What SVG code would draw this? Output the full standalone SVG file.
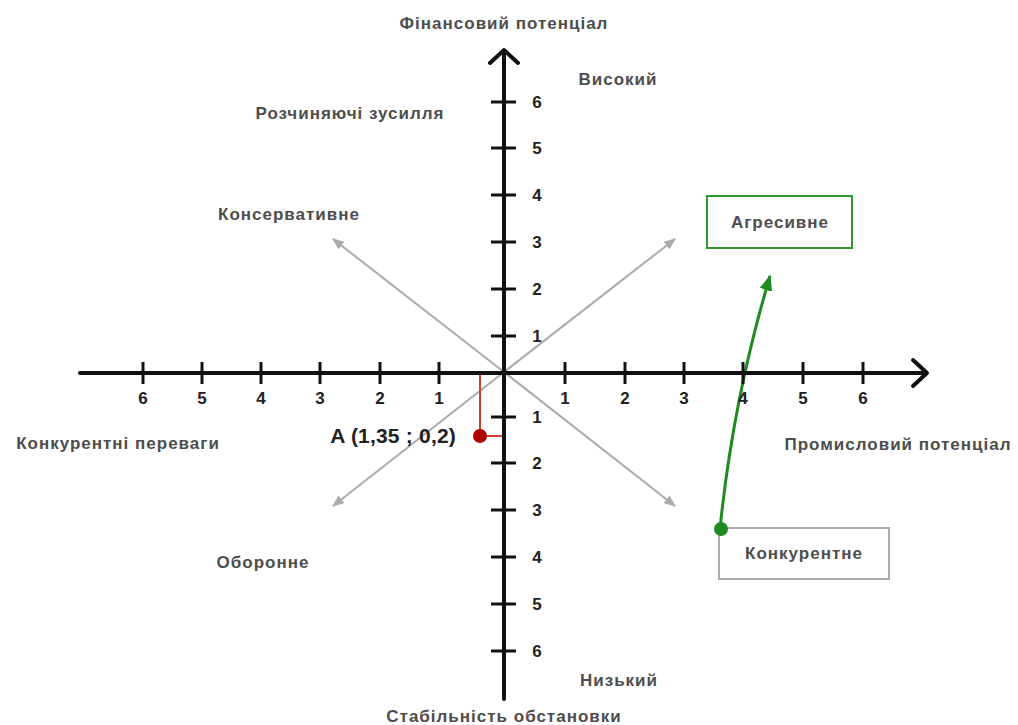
<svg xmlns="http://www.w3.org/2000/svg" width="1018" height="725" viewBox="0 0 1018 725">
<style>
.lbl{font-family:"Liberation Sans",Arial,sans-serif;font-weight:bold;font-size:17px;letter-spacing:1px;fill:#4d4d4d;text-anchor:middle}
.num{font-family:"Liberation Sans",Arial,sans-serif;font-weight:bold;font-size:17px;fill:#222;text-anchor:middle}
.axis{stroke:#111;stroke-width:4;fill:none;stroke-linecap:round;stroke-linejoin:round}
.tick{stroke:#111;stroke-width:3}
.diag{stroke:#aaa;stroke-width:2;fill:none}
</style>
<defs>
<marker id="ga" viewBox="0 0 10 10" refX="9" refY="5" markerWidth="12" markerHeight="12" orient="auto" markerUnits="userSpaceOnUse">
<path d="M0,1 L10,5 L0,9 z" fill="#aaa"/>
</marker>
<marker id="gr" viewBox="0 0 10 10" refX="9" refY="5" markerWidth="16" markerHeight="16" orient="auto" markerUnits="userSpaceOnUse">
<path d="M0,1 L10,5 L0,9 z" fill="#1f8a1f"/>
</marker>
</defs>
<rect width="1018" height="725" fill="#fff"/>
<g id="connectors">
<line class="diag" x1="504" y1="372" x2="675" y2="239" marker-end="url(#ga)"/>
<line class="diag" x1="504" y1="372" x2="333" y2="239" marker-end="url(#ga)"/>
<line class="diag" x1="504" y1="372" x2="333" y2="506" marker-end="url(#ga)"/>
<line class="diag" x1="504" y1="372" x2="675" y2="506" marker-end="url(#ga)"/>
<path d="M720,529 Q733,400 770,276" stroke="#1f8a1f" stroke-width="3" fill="none" marker-end="url(#gr)"/>
<polyline points="480,373 480,436 504,436" stroke="#d0402a" stroke-width="2" fill="none"/>
</g>
<g id="axes">
<line class="axis" x1="80" y1="373" x2="926" y2="373"/>
<polyline class="axis" points="913,360 927,373 913,386"/>
<line class="axis" x1="504" y1="52" x2="504" y2="699"/>
<polyline class="axis" points="490,63 504,50 518,63"/>
<g class="tick">
<line x1="143" y1="362" x2="143" y2="384"/><line x1="202" y1="362" x2="202" y2="384"/><line x1="261" y1="362" x2="261" y2="384"/><line x1="320" y1="362" x2="320" y2="384"/><line x1="380" y1="362" x2="380" y2="384"/><line x1="439" y1="362" x2="439" y2="384"/>
<line x1="565" y1="362" x2="565" y2="384"/><line x1="625" y1="362" x2="625" y2="384"/><line x1="684" y1="362" x2="684" y2="384"/><line x1="743" y1="362" x2="743" y2="384"/><line x1="803" y1="362" x2="803" y2="384"/><line x1="863" y1="362" x2="863" y2="384"/>
<line x1="491" y1="102" x2="516" y2="102"/><line x1="491" y1="148" x2="516" y2="148"/><line x1="491" y1="195" x2="516" y2="195"/><line x1="491" y1="242" x2="516" y2="242"/><line x1="491" y1="289" x2="516" y2="289"/><line x1="491" y1="336" x2="516" y2="336"/>
<line x1="491" y1="417" x2="516" y2="417"/><line x1="491" y1="463" x2="516" y2="463"/><line x1="491" y1="510" x2="516" y2="510"/><line x1="491" y1="557" x2="516" y2="557"/><line x1="491" y1="604" x2="516" y2="604"/><line x1="491" y1="651" x2="516" y2="651"/>
</g>
<g>
<text class="num" x="143" y="404">6</text><text class="num" x="202" y="404">5</text><text class="num" x="261" y="404">4</text><text class="num" x="320" y="404">3</text><text class="num" x="380" y="404">2</text><text class="num" x="439" y="404">1</text>
<text class="num" x="565" y="404">1</text><text class="num" x="625" y="404">2</text><text class="num" x="684" y="404">3</text><text class="num" x="743" y="404">4</text><text class="num" x="803" y="404">5</text><text class="num" x="863" y="404">6</text>
<text class="num" x="537" y="108">6</text><text class="num" x="537" y="154">5</text><text class="num" x="537" y="201">4</text><text class="num" x="537" y="248">3</text><text class="num" x="537" y="295">2</text><text class="num" x="537" y="342">1</text>
<text class="num" x="537" y="423">1</text><text class="num" x="537" y="469">2</text><text class="num" x="537" y="516">3</text><text class="num" x="537" y="563">4</text><text class="num" x="537" y="610">5</text><text class="num" x="537" y="657">6</text>
</g>
</g>
<g id="labels">
<text class="lbl" x="504" y="29">Фінансовий потенціал</text>
<text class="lbl" x="618" y="85">Високий</text>
<text class="lbl" x="350" y="119">Розчиняючі зусилля</text>
<text class="lbl" x="289" y="220">Консервативне</text>
<text class="lbl" x="118" y="449">Конкурентні переваги</text>
<text class="lbl" x="898" y="450">Промисловий потенціал</text>
<text class="lbl" x="263" y="568">Оборонне</text>
<text class="lbl" x="619" y="686">Низький</text>
<text class="lbl" x="504" y="722">Стабільність обстановки</text>
</g>
<g id="pointA">
<circle cx="480" cy="436" r="7" fill="#b00000"/>
<text x="456" y="443" style="font-family:'Liberation Sans',Arial,sans-serif;font-weight:bold;font-size:21px;letter-spacing:0.2px;fill:#222;text-anchor:end">A (1,35 ; 0,2)</text>
</g>
<g id="node-agresyvne">
<rect x="707" y="196" width="145" height="52" fill="#fff" stroke="#2e9a2e" stroke-width="2"/>
<text class="lbl" x="780" y="228">Агресивне</text>
</g>
<g id="node-konkurentne">
<rect x="719" y="528" width="170" height="51" fill="#fff" stroke="#aaa" stroke-width="2"/>
<text class="lbl" x="804" y="559">Конкурентне</text>
</g>
<circle cx="721" cy="529" r="7" fill="#1f8a1f"/>
</svg>
